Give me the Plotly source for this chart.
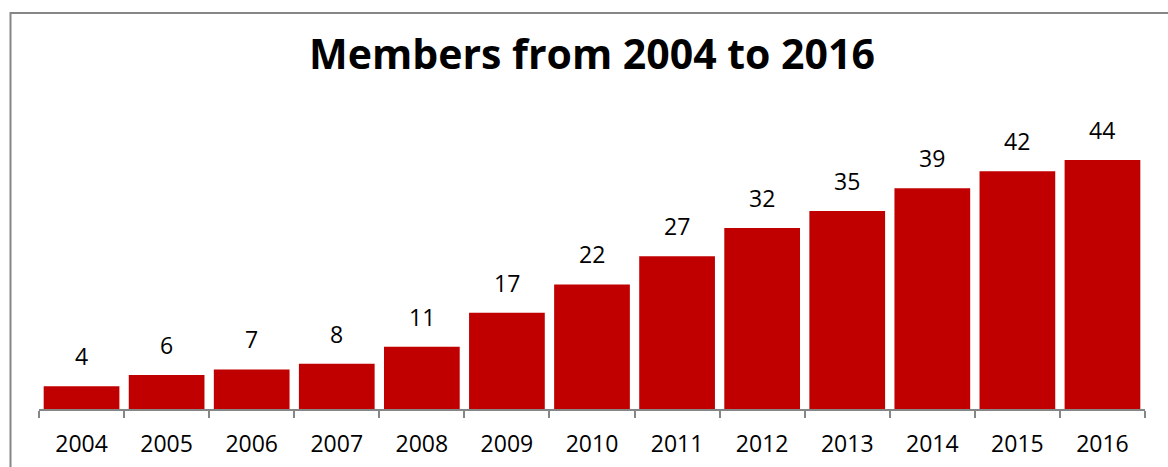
import plotly.graph_objects as go

years = ["2004", "2005", "2006", "2007", "2008", "2009", "2010",
         "2011", "2012", "2013", "2014", "2015", "2016"]
members = [4, 6, 7, 8, 11, 17, 22, 27, 32, 35, 39, 42, 44]

W, H = 1168, 467
L, R, T, B = 39, 23, 126, 58
YMAX = 50
plot_w = W - L - R
plot_h = H - T - B

fig = go.Figure(go.Bar(
    x=years, y=members,
    marker=dict(color="#C00000", line=dict(width=0)),
    hoverinfo="x+y",
))

for i, v in enumerate(members):
    fig.add_annotation(x=i, y=v, text=str(v), showarrow=False,
                       xref="x", yref="y",
                       yanchor="bottom", yshift=12,
                       font=dict(family="Open Sans", size=23, color="#000000"))

# outer chart border (left and top visible, rest beyond the window)
bx = (10.5 - L) / plot_w
by = (H - B - 13) / plot_h
fig.add_shape(type="rect", xref="paper", yref="paper",
              x0=bx, x1=1.2, y0=-1, y1=by,
              line=dict(color="#868686", width=2), fillcolor="rgba(0,0,0,0)")

fig.update_layout(
    width=W, height=H,
    margin=dict(l=L, r=R, t=T, b=B, autoexpand=False),
    paper_bgcolor="white", plot_bgcolor="white",
    bargap=0.11,
    showlegend=False,
    title=dict(text="<b>Members from 2004 to 2016</b>",
               x=(L + plot_w / 2) / W, xanchor="center",
               y=1 - 55 / H, yanchor="middle", yref="container",
               font=dict(family="Open Sans", size=41, color="#000000")),
    xaxis=dict(type="category", categoryorder="array", categoryarray=years,
               range=[-0.5, len(years) - 0.5], automargin=False,
               showline=True, linecolor="#868686", linewidth=2,
               ticks="outside", tickson="boundaries", ticklen=7, tickwidth=2,
               tickcolor="#868686", showgrid=False, zeroline=False,
               tickangle=0,
               tickfont=dict(family="Open Sans", size=23, color="#000000"),
               ticklabelstandoff=13),
    yaxis=dict(visible=False, range=[0, YMAX], fixedrange=True),
)

fig.write_html("out.html")
